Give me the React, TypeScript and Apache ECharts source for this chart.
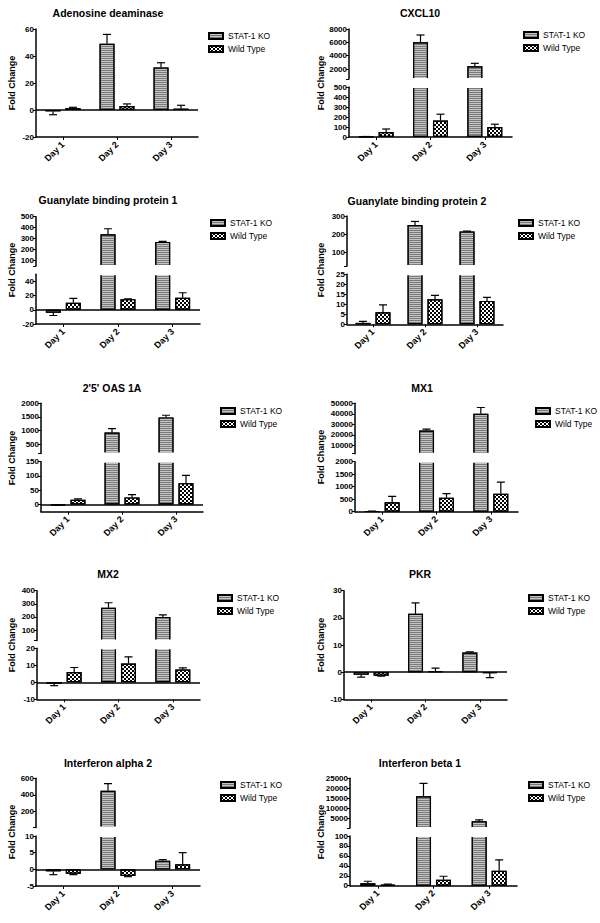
import React, { useEffect, useRef } from 'react';
import * as echarts from 'echarts';

const FONT = '"Liberation Sans", Arial, sans-serif';

const categories = ['Day 1', 'Day 2', 'Day 3'];
const seriesNames = ['STAT-1 KO', 'Wild Type'];
const yLabel = 'Fold Change';

// means and SEM per gene (KO = STAT-1 KO, WT = Wild Type)
const adaKO = [-1, 49, 31.5];
const adaKOsem = [2.5, 7, 3.5];
const adaWT = [1.5, 3, 1];
const adaWTsem = [0.5, 1.5, 2.5];

const cxclKO = [3, 6000, 2400];
const cxclKOsem = [2, 1100, 450];
const cxclWT = [50, 165, 100];
const cxclWTsem = [30, 63, 28];

const gbp1KO = [-4, 340, 270];
const gbp1KOsem = [4, 50, 5];
const gbp1WT = [10, 15, 17];
const gbp1WTsem = [6, 0.5, 7];

const gbp2KO = [0.7, 250, 215];
const gbp2KOsem = [0.8, 20, 2];
const gbp2WT = [6, 12.5, 11.7];
const gbp2WTsem = [3.7, 2, 1.8];

const oasKO = [-2, 920, 1480];
const oasKOsem = [1, 150, 80];
const oasWT = [17, 25, 75];
const oasWTsem = [3, 10, 27];

const mx1KO = [15, 24000, 40000];
const mx1KOsem = [5, 1500, 6000];
const mx1WT = [380, 560, 720];
const mx1WTsem = [230, 160, 460];

const mx2KO = [-1, 270, 200];
const mx2KOsem = [1, 38, 15];
const mx2WT = [6, 11, 7.5];
const mx2WTsem = [2.7, 4, 1];

const pkrKO = [-1, 21.5, 7.2];
const pkrKOsem = [0.8, 4, 0.3];
const pkrWT = [-1.3, 0.3, -0.3];
const pkrWTsem = [0.2, 1.2, 1.7];

const ifnaKO = [-0.6, 450, 2.6];
const ifnaKOsem = [1, 85, 0.3];
const ifnaWT = [-1.3, -2, 1.5];
const ifnaWTsem = [0.3, 0.2, 3.5];

const ifnbKO = [5, 16000, 3500];
const ifnbKOsem = [4, 6500, 700];
const ifnbWT = [2, 12, 30];
const ifnbWTsem = [1, 7, 22];

// tick labels
const adaTicks = [-20, 0, 20, 40, 60];
const cxclUpper = [2000, 4000, 6000, 8000];
const cxclLower = [0, 100, 200, 300, 400, 500];
const gbp1Upper = [100, 200, 300, 400, 500];
const gbp1Lower = [-20, 0, 20, 40];
const gbp2Upper = [100, 200, 300];
const gbp2Lower = [0, 5, 10, 15, 20, 25];
const oasUpper = [500, 1000, 1500, 2000];
const oasLower = [0, 50, 100, 150];
const mx1Upper = [10000, 20000, 30000, 40000, 50000];
const mx1Lower = [0, 500, 1000, 1500, 2000];
const mx2Upper = [100, 200, 300, 400];
const mx2Lower = [-10, 0, 10, 20];
const pkrTicks = [-10, 0, 10, 20, 30];
const ifnaUpper = [200, 400, 600];
const ifnaLower = [-5, 0, 5, 10];
const ifnbUpper = [5000, 10000, 15000, 20000, 25000];
const ifnbLower = [0, 20, 40, 60, 80, 100];

const genes = [
  { title: 'Adenosine deaminase', ko: adaKO, koSem: adaKOsem, wt: adaWT, wtSem: adaWTsem },
  { title: 'CXCL10', ko: cxclKO, koSem: cxclKOsem, wt: cxclWT, wtSem: cxclWTsem },
  { title: 'Guanylate binding protein 1', ko: gbp1KO, koSem: gbp1KOsem, wt: gbp1WT, wtSem: gbp1WTsem },
  { title: 'Guanylate binding protein 2', ko: gbp2KO, koSem: gbp2KOsem, wt: gbp2WT, wtSem: gbp2WTsem },
  { title: "2'5' OAS 1A", ko: oasKO, koSem: oasKOsem, wt: oasWT, wtSem: oasWTsem },
  { title: 'MX1', ko: mx1KO, koSem: mx1KOsem, wt: mx1WT, wtSem: mx1WTsem },
  { title: 'MX2', ko: mx2KO, koSem: mx2KOsem, wt: mx2WT, wtSem: mx2WTsem },
  { title: 'PKR', ko: pkrKO, koSem: pkrKOsem, wt: pkrWT, wtSem: pkrWTsem },
  { title: 'Interferon alpha 2', ko: ifnaKO, koSem: ifnaKOsem, wt: ifnaWT, wtSem: ifnaWTsem },
  { title: 'Interferon beta 1', ko: ifnbKO, koSem: ifnbKOsem, wt: ifnbWT, wtSem: ifnbWTsem },
];

// layout (pixels) and axis segments
const layouts = [
  { left: 36, right: 198, tx: 108, ty: 13, lx: 208, ly: 31, fx: 12, fy: 83,
    segs: [{ top: 29, bottom: 137, min: -20, max: 60, ticks: adaTicks }] },
  { left: 349, right: 512, tx: 420, ty: 13, lx: 523, ly: 30, fx: 321, fy: 83,
    segs: [{ top: 29, bottom: 79, min: 500, max: 8000, ticks: cxclUpper },
           { top: 87, bottom: 137, min: 0, max: 500, ticks: cxclLower }] },
  { left: 36, right: 200, tx: 108, ty: 200, lx: 210, ly: 218, fx: 12, fy: 270,
    segs: [{ top: 216.7, bottom: 266, min: 50, max: 500, ticks: gbp1Upper },
           { top: 274.3, bottom: 324, min: -20, max: 50, ticks: gbp1Lower }] },
  { left: 347, right: 503, tx: 417, ty: 201, lx: 518, ly: 218, fx: 321, fy: 270,
    segs: [{ top: 216, bottom: 266, min: 25, max: 300, ticks: gbp2Upper },
           { top: 274.3, bottom: 324.3, min: 0, max: 25, ticks: gbp2Lower }] },
  { left: 41, right: 203, tx: 112, ty: 388, lx: 220, ly: 406, fx: 12, fy: 458,
    segs: [{ top: 403.3, bottom: 453.5, min: 150, max: 2000, ticks: oasUpper },
           { top: 461.7, bottom: 511.7, min: -25, max: 150, ticks: oasLower }] },
  { left: 355, right: 518, tx: 422, ty: 388, lx: 535, ly: 406, fx: 321, fy: 457,
    segs: [{ top: 403.3, bottom: 453.7, min: 2000, max: 50000, ticks: mx1Upper },
           { top: 461.7, bottom: 511.7, min: 0, max: 2000, ticks: mx1Lower }] },
  { left: 37, right: 200, tx: 108, ty: 574, lx: 217, ly: 593, fx: 12, fy: 645,
    segs: [{ top: 590.7, bottom: 640.5, min: 20, max: 400, ticks: mx2Upper },
           { top: 648.3, bottom: 699.3, min: -10, max: 20, ticks: mx2Lower }] },
  { left: 344, right: 507, tx: 420, ty: 574, lx: 528, ly: 593, fx: 321, fy: 645,
    segs: [{ top: 590.7, bottom: 699.3, min: -10, max: 30, ticks: pkrTicks }] },
  { left: 36, right: 200, tx: 108, ty: 763, lx: 220, ly: 780, fx: 12, fy: 832,
    segs: [{ top: 778.3, bottom: 827.5, min: 10, max: 600, ticks: ifnaUpper },
           { top: 836, bottom: 886, min: -5, max: 10, ticks: ifnaLower }] },
  { left: 350, right: 517, tx: 420, ty: 763, lx: 528, ly: 780, fx: 321, fy: 832,
    segs: [{ top: 778.3, bottom: 828, min: 100, max: 25000, ticks: ifnbUpper },
           { top: 836, bottom: 885.7, min: 0, max: 100, ticks: ifnbLower }] },
];

const KO_DECAL = {
  symbol: 'rect',
  symbolSize: 1,
  color: '#7a7a7a',
  dashArrayX: [1, 0],
  dashArrayY: [1, 1],
  rotation: 0,
};
const WT_DECAL = {
  symbol: 'rect',
  symbolSize: 1,
  color: '#000',
  dashArrayX: [[2, 2], [0, 2, 2, 0]],
  dashArrayY: [2, 0],
  rotation: 0,
};

const BAR_OFFSET = 10;

function errorRender(params: any, api: any) {
  const c = api.value(0);
  const v = api.value(1);
  const e = api.value(2);
  const off = api.value(3);
  const p1 = api.coord([c, v]);
  const p2 = api.coord([c, e]);
  const x = p1[0] + off;
  const st = { stroke: '#000', lineWidth: 1.2 };
  return {
    type: 'group',
    children: [
      { type: 'line', shape: { x1: x, y1: p1[1], x2: x, y2: p2[1] }, style: st },
      { type: 'line', shape: { x1: x - 4, y1: p2[1], x2: x + 4, y2: p2[1] }, style: st },
    ],
  };
}

function buildOption() {
  const grid: any[] = [];
  const xAxis: any[] = [];
  const yAxis: any[] = [];
  const series: any[] = [];
  const legend: any[] = [];
  const graphic: any[] = [];

  genes.forEach((g, pi) => {
    const L = layouts[pi];
    const nSeg = L.segs.length;
    const segOf = (v: number) => {
      for (let i = 0; i < nSeg - 1; i++) if (v > L.segs[i].min) return i;
      return nSeg - 1;
    };
    L.segs.forEach((s, si) => {
      const gi = grid.length;
      const isBottom = si === nSeg - 1;
      const isUpper = !isBottom;
      grid.push({ left: L.left, top: s.top, width: L.right - L.left, height: s.bottom - s.top });
      xAxis.push({
        type: 'category',
        gridIndex: gi,
        data: categories,
        show: isBottom,
        axisLine: { show: true, onZero: false, lineStyle: { color: '#000', width: 1.5 } },
        axisTick: { show: true, alignWithLabel: true, length: 3, lineStyle: { color: '#000', width: 1 } },
        axisLabel: { rotate: 45, interval: 0, fontSize: 9, fontWeight: 'bold', fontFamily: FONT, color: '#000', margin: 6 },
        splitLine: { show: false },
      });
      const tickVals = isUpper ? [s.min, ...s.ticks] : s.ticks;
      yAxis.push({
        type: 'value',
        gridIndex: gi,
        min: s.min,
        max: s.max,
        axisLine: { show: true, onZero: false, lineStyle: { color: '#000', width: 1.5 } },
        axisTick: { show: true, length: 3, customValues: tickVals, lineStyle: { color: '#000', width: 1 } },
        axisLabel: {
          customValues: s.ticks,
          formatter: (v: number) => String(v),
          fontSize: 8,
          fontWeight: 'bold',
          fontFamily: FONT,
          color: '#000',
          margin: 2,
        },
        splitLine: { show: false },
      });
      const inSeg = (v: number) => (isUpper ? (v > s.min ? v : null) : v);
      const zeroLine = s.min < 0 && s.max > 0
        ? {
            silent: true,
            symbol: ['none', 'none'],
            label: { show: false },
            lineStyle: { color: '#000', width: 1.5, type: 'solid' },
            data: [{ yAxis: 0 }],
            animation: false,
          }
        : undefined;
      series.push({
        type: 'bar',
        name: seriesNames[0],
        xAxisIndex: gi,
        yAxisIndex: gi,
        data: g.ko.map(inSeg),
        barWidth: 15,
        barGap: '33%',
        clip: true,
        itemStyle: { color: '#c4c4c4', borderColor: '#000', borderWidth: 1.2, decal: KO_DECAL },
        markLine: zeroLine,
        z: 2,
      });
      series.push({
        type: 'bar',
        name: seriesNames[1],
        xAxisIndex: gi,
        yAxisIndex: gi,
        data: g.wt.map(inSeg),
        barWidth: 15,
        barGap: '33%',
        clip: true,
        itemStyle: { color: '#ffffff', borderColor: '#000', borderWidth: 1.2, decal: WT_DECAL },
        z: 2,
      });
      const errData: number[][] = [];
      [[g.ko, g.koSem, -BAR_OFFSET], [g.wt, g.wtSem, BAR_OFFSET]].forEach(([m, e, off]: any) => {
        m.forEach((v: number, j: number) => {
          if (segOf(v) !== si) return;
          const end = v >= 0 ? v + e[j] : v - e[j];
          errData.push([j, v, end, off]);
        });
      });
      series.push({
        type: 'custom',
        name: 'err',
        xAxisIndex: gi,
        yAxisIndex: gi,
        data: errData,
        encode: { x: 0, y: 1 },
        renderItem: errorRender,
        clip: true,
        silent: true,
        z: 3,
      });
    });

    // gap cover for the broken axis
    if (nSeg > 1) {
      const up = L.segs[0];
      const low = L.segs[1];
      graphic.push({
        type: 'rect',
        shape: { x: L.left + 1, y: up.bottom - 1, width: L.right - L.left, height: low.top - up.bottom + 2 },
        style: { fill: '#fff' },
        z: 100,
      });
    }

    graphic.push({
      type: 'text',
      x: L.tx,
      y: L.ty,
      style: {
        text: g.title,
        fontSize: 10.5,
        fontWeight: 'bold',
        fontFamily: FONT,
        fill: '#000',
        align: 'center',
        verticalAlign: 'middle',
      },
      z: 100,
    });
    graphic.push({
      type: 'text',
      x: L.fx,
      y: L.fy,
      rotation: Math.PI / 2,
      style: {
        text: yLabel,
        fontSize: 9,
        fontWeight: 'bold',
        fontFamily: FONT,
        fill: '#000',
        align: 'center',
        verticalAlign: 'middle',
      },
      z: 100,
    });

    legend.push({
      left: L.lx,
      top: L.ly,
      orient: 'vertical',
      icon: 'rect',
      itemWidth: 14,
      itemHeight: 6,
      itemGap: 3,
      padding: 0,
      selectedMode: false,
      data: seriesNames,
      textStyle: { fontSize: 8.5, fontFamily: FONT, color: '#000', lineHeight: 10 },
    });
  });

  return {
    animation: false,
    backgroundColor: '#ffffff',
    textStyle: { fontFamily: FONT },
    grid,
    xAxis,
    yAxis,
    series,
    legend,
    graphic,
  };
}

export default function App() {
  const ref = useRef<HTMLDivElement>(null);
  useEffect(() => {
    if (!ref.current) return;
    const chart = echarts.init(ref.current, undefined, { renderer: 'svg' });
    chart.setOption(buildOption() as any);
    return () => chart.dispose();
  }, []);
  return (
    <div
      ref={ref}
      style={{ position: 'absolute', left: 0, top: 0, width: 600, height: 923, background: '#fff' }}
    />
  );
}
